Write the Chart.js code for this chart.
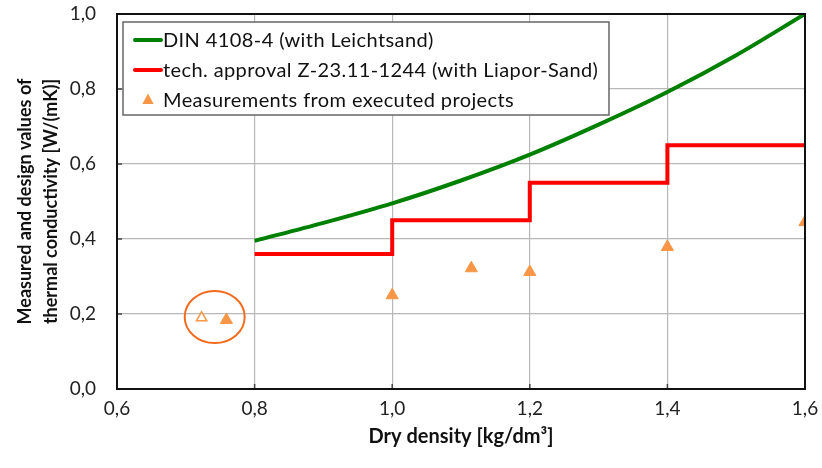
<!DOCTYPE html>
<html>
<head>
<meta charset="utf-8">
<script src="https://cdn.jsdelivr.net/npm/chart.js@4"></script>
<style>
  html, body { margin: 0; padding: 0; background: #fff; }
  #wrap { width: 822px; height: 468px; }
</style>
</head>
<body>
<div id="wrap"><canvas id="c" width="822" height="468"></canvas></div>
<script>
// Design values according to DIN 4108-4 (Leichtsand)
const dinDensity = [0.8, 0.9, 1.0, 1.1, 1.2, 1.3, 1.4, 1.5, 1.6];
const dinLambda  = [0.395, 0.443, 0.495, 0.556, 0.625, 0.705, 0.792, 0.890, 1.0];

// Technical approval Z-23.11-1244 (Liapor-Sand), stepwise design values
const approvalDensity = [0.8, 1.0, 1.2, 1.4, 1.6];
const approvalLambda  = [0.36, 0.45, 0.55, 0.65, 0.65];

// Measurements from executed projects
const measuredDensity = [0.759, 1.0, 1.115, 1.2, 1.4, 1.6];
const measuredLambda  = [0.184, 0.25, 0.322, 0.312, 0.379, 0.445];

// Single measurement shown as an open marker (highlighted together with its neighbour)
const openDensity = [0.723];
const openLambda  = [0.19];

// Axis ticks
const xTicks = [0.6, 0.8, 1.0, 1.2, 1.4, 1.6];
const yTicks = [0.0, 0.2, 0.4, 0.6, 0.8, 1.0];

const legendLabels = [
  'DIN 4108-4 (with Leichtsand)',
  'tech. approval Z-23.11-1244 (with Liapor-Sand)',
  'Measurements from executed projects'
];

const GREEN = '#008000';
const RED = '#ff0000';
const ORANGE = '#f79646';
const FONT = 'Lato, "Open Sans", sans-serif';

const toPoints = (xs, ys) => xs.map((x, i) => ({ x: x, y: ys[i] }));
const fmt = v => Number(v).toFixed(1).replace('.', ',');

// Frame around the plot area plus short inner tick marks
const framePlugin = {
  id: 'frame',
  afterDraw(chart) {
    const { ctx, chartArea: a, scales } = chart;
    ctx.save();
    ctx.strokeStyle = '#444';
    ctx.lineWidth = 1.5;
    xTicks.forEach(v => {
      const px = scales.x.getPixelForValue(v);
      ctx.beginPath(); ctx.moveTo(px, a.bottom); ctx.lineTo(px, a.bottom - 5); ctx.stroke();
    });
    yTicks.forEach(v => {
      const py = scales.y.getPixelForValue(v);
      ctx.beginPath(); ctx.moveTo(a.left, py); ctx.lineTo(a.left + 5, py); ctx.stroke();
    });
    ctx.strokeStyle = '#111';
    ctx.lineWidth = 2;
    ctx.strokeRect(a.left, a.top, a.right - a.left, a.bottom - a.top);
    ctx.restore();
  }
};

// Orange ring around the two low-density measurements
const ringPlugin = {
  id: 'ring',
  afterDatasetsDraw(chart) {
    const { ctx, scales } = chart;
    const cx = scales.x.getPixelForValue(0.742);
    const cy = scales.y.getPixelForValue(0.192);
    ctx.save();
    ctx.strokeStyle = '#f26a1b';
    ctx.lineWidth = 2;
    ctx.beginPath();
    ctx.ellipse(cx, cy, 30, 26, 0, 0, Math.PI * 2);
    ctx.stroke();
    ctx.restore();
  }
};

// Legend box placed inside the plot area, top left
const boxLegendPlugin = {
  id: 'boxLegend',
  afterDatasetsDraw(chart) {
    const { ctx, chartArea: a } = chart;
    const left = a.left + 6, top = a.top + 8, w = 486, h = 93;
    ctx.save();
    ctx.fillStyle = '#fff';
    ctx.fillRect(left, top, w, h);
    ctx.strokeStyle = '#666';
    ctx.lineWidth = 1.5;
    ctx.strokeRect(left, top, w, h);
    const rows = [top + 18, top + 48, top + 78];
    const textX = left + 40;
    ctx.lineCap = 'round';
    ctx.lineWidth = 4;
    ctx.strokeStyle = GREEN;
    ctx.beginPath(); ctx.moveTo(left + 12, rows[0]); ctx.lineTo(left + 38, rows[0]); ctx.stroke();
    ctx.strokeStyle = RED;
    ctx.beginPath(); ctx.moveTo(left + 12, rows[1]); ctx.lineTo(left + 38, rows[1]); ctx.stroke();
    ctx.fillStyle = ORANGE;
    const tx = left + 25, ty = rows[2], r = 6.5;
    ctx.beginPath();
    ctx.moveTo(tx, ty - r);
    ctx.lineTo(tx + r * 0.87, ty + r * 0.6);
    ctx.lineTo(tx - r * 0.87, ty + r * 0.6);
    ctx.closePath(); ctx.fill();
    ctx.fillStyle = '#111';
    ctx.font = '20px ' + FONT;
    if ('letterSpacing' in ctx) ctx.letterSpacing = '0.4px';
    ctx.textBaseline = 'middle';
    ctx.textAlign = 'left';
    legendLabels.forEach((t, i) => ctx.fillText(t, textX, rows[i] + 1));
    ctx.restore();
  }
};

new Chart(document.getElementById('c'), {
  type: 'scatter',
  data: {
    datasets: [
      {
        label: legendLabels[0],
        data: toPoints(dinDensity, dinLambda),
        showLine: true,
        borderColor: GREEN,
        borderWidth: 4,
        pointRadius: 0,
        cubicInterpolationMode: 'monotone'
      },
      {
        label: legendLabels[1],
        data: toPoints(approvalDensity, approvalLambda),
        showLine: true,
        stepped: 'before',
        borderColor: RED,
        borderWidth: 4,
        pointRadius: 0
      },
      {
        label: legendLabels[2],
        data: toPoints(measuredDensity, measuredLambda),
        pointStyle: 'triangle',
        pointRadius: 7,
        backgroundColor: ORANGE,
        borderColor: ORANGE,
        borderWidth: 1
      },
      {
        label: 'open',
        data: toPoints(openDensity, openLambda),
        pointStyle: 'triangle',
        pointRadius: 6,
        backgroundColor: '#fff',
        borderColor: ORANGE,
        borderWidth: 1.5
      }
    ]
  },
  options: {
    responsive: false,
    animation: false,
    layout: { padding: { left: 0, right: 17, top: 14, bottom: 0 } },
    plugins: { legend: { display: false }, tooltip: { enabled: false } },
    scales: {
      x: {
        type: 'linear',
        min: 0.6, max: 1.6,
        afterBuildTicks: s => { s.ticks = xTicks.map(v => ({ value: v })); },
        afterFit: s => { s.height = 79; s.paddingLeft = 0; s.paddingRight = 0; },
        ticks: { callback: v => fmt(v), color: '#222', font: { family: FONT, size: 19 }, padding: 8, maxRotation: 0 },
        grid: { color: '#b8b8b8', lineWidth: 1.2, drawTicks: false },
        border: { display: false },
        title: { display: true, text: 'Dry density [kg/dm³]', color: '#111', font: { family: FONT, size: 20, weight: 'bold' }, padding: { top: 0, bottom: 19 } }
      },
      y: {
        type: 'linear',
        min: 0, max: 1,
        afterBuildTicks: s => { s.ticks = yTicks.map(v => ({ value: v })); },
        afterFit: s => { s.width = 117; s.paddingTop = 0; s.paddingBottom = 0; },
        ticks: { callback: v => fmt(v), color: '#222', font: { family: FONT, size: 19 }, padding: 21 },
        grid: { color: '#b8b8b8', lineWidth: 1.2, drawTicks: false },
        border: { display: false },
        title: {
          display: true,
          text: ['Measured and design values of', 'thermal conductivity [W/(mK)]'],
          color: '#111',
          font: { family: FONT, size: 18, weight: 'bold', lineHeight: 1.4 },
          padding: { top: 13, bottom: 0 }
        }
      }
    }
  },
  plugins: [framePlugin, ringPlugin, boxLegendPlugin]
});
</script>
</body>
</html>
